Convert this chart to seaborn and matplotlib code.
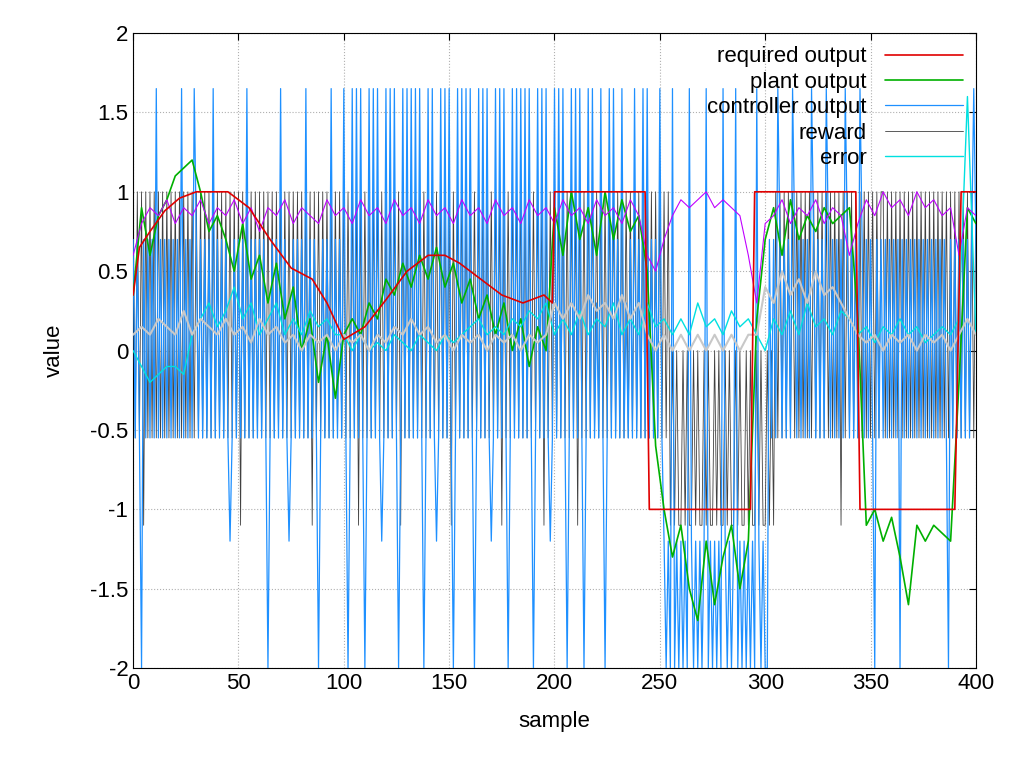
import numpy as np
import matplotlib
matplotlib.use("Agg")
import matplotlib.pyplot as plt
import seaborn as sns

# required output: breakpoints
req_x = [0, 3, 8, 15, 22, 30, 45, 55, 65, 75, 85, 92, 100, 110, 120, 130, 140, 148, 155, 165,
         175, 185, 195, 199, 200, 243, 245, 293, 295, 343, 345, 390, 393, 400]
req_y = [0.35, 0.65, 0.75, 0.88, 0.96, 1.0, 1.0, 0.9, 0.7, 0.52, 0.45, 0.3, 0.07, 0.15, 0.32, 0.5,
         0.6, 0.6, 0.55, 0.45, 0.35, 0.3, 0.35, 0.3, 1, 1, -1, -1, 1, 1, -1, -1, 1, 1]

# plant output, every 4 samples
plant = [0.35, 0.9, 0.6, 0.85, 0.95, 1.1, 1.15, 1.2, 1.0, 0.75, 0.85,
         0.7, 0.5, 0.8, 0.45, 0.6, 0.3, 0.55, 0.2, 0.4, 0.0, 0.2, -0.2, 0.1, -0.3, 0.1,
         0.2, 0.1, 0.3, 0.2, 0.45, 0.35, 0.55, 0.4, 0.6, 0.45, 0.65, 0.4, 0.55, 0.3, 0.45,
         0.2, 0.35, 0.1, 0.3, 0.0, 0.2, -0.1, 0.15, 0.0, 0.9,
         0.6, 1.0, 0.7, 0.9, 0.6, 1.0, 0.7, 0.95, 0.75, 0.85,
         0.5, -0.6, -1.0, -1.3, -1.1, -1.5, -1.7, -1.2, -1.6, -1.3, -1.1, -1.5, -1.2,
         0.2, 0.7, 0.9, 0.6, 0.95, 0.7, 0.85, 0.75, 0.9, 0.8, 0.85, 0.9,
         0.2, -1.1, -1.0, -1.2, -1.05, -1.3, -1.6, -1.1, -1.2, -1.1, -1.15, -1.2, -0.2,
         0.9, 0.8]

# magenta and light grey traces, every 4 samples
magenta = [0.6, 0.8, 0.9, 0.85, 0.95, 0.8, 0.9, 0.85, 0.95, 0.8, 0.9,
           0.85, 0.95, 0.8, 0.9, 0.75, 0.9, 0.85, 0.95, 0.8, 0.9, 0.85, 0.8, 0.95, 0.85, 0.9,
           0.8, 0.95, 0.85, 0.9, 0.8, 0.95, 0.85, 0.9, 0.8, 0.95, 0.85, 0.9, 0.8, 0.95, 0.85,
           0.9, 0.8, 0.95, 0.85, 0.9, 0.8, 0.95, 0.85, 0.9, 0.8,
           0.95, 0.85, 0.9, 0.8, 0.95, 0.85, 0.9, 0.8, 0.95, 0.85,
           0.6, 0.5, 0.7, 0.85, 0.95, 0.9, 0.95, 1.0, 0.9, 0.95, 0.9, 0.85, 0.6,
           0.3, 0.8, 0.85, 0.95, 0.8, 0.9, 0.85, 0.95, 0.8, 0.9, 0.85, 0.6,
           0.8, 0.95, 0.85, 1.0, 0.9, 0.95, 0.85, 1.0, 0.9, 0.95, 0.85, 0.9, 0.6,
           0.9, 0.85]
lgrey = [0.1, 0.15, 0.1, 0.2, 0.15, 0.1, 0.25, 0.1, 0.2, 0.15, 0.1,
         0.2, 0.1, 0.15, 0.05, 0.2, 0.1, 0.15, 0.05, 0.1, 0.0, 0.1, 0.05, 0.1, 0.0, 0.1,
         0.05, 0.1, 0.0, 0.1, 0.05, 0.15, 0.1, 0.2, 0.1, 0.15, 0.05, 0.1, 0.0, 0.1, 0.05,
         0.1, 0.0, 0.1, 0.05, 0.1, 0.0, 0.1, 0.05, 0.1, 0.3,
         0.2, 0.3, 0.2, 0.35, 0.25, 0.3, 0.2, 0.35, 0.2, 0.3,
         0.1, 0.0, 0.1, 0.0, 0.1, 0.0, 0.1, 0.0, 0.1, 0.0, 0.1, 0.0, 0.1,
         0.1, 0.4, 0.3, 0.5, 0.35, 0.45, 0.3, 0.5, 0.35, 0.4, 0.3, 0.2,
         0.1, 0.05, 0.1, 0.0, 0.1, 0.05, 0.1, 0.0, 0.1, 0.05, 0.1, 0.0, 0.1,
         0.2, 0.1]
error = [0.0, -0.1, -0.2, -0.15, -0.1, -0.1, -0.15, 0.1, 0.2, 0.3, 0.15,
         0.25, 0.4, 0.2, 0.3, 0.1, 0.2, 0.3, 0.1, 0.2, 0.1, 0.25, 0.15, 0.2, 0.1, 0.1,
         0.0, 0.1, 0.0, 0.05, 0.0, 0.1, 0.05, 0.0, 0.1, 0.05, 0.0, 0.1, 0.05, 0.1, 0.15,
         0.2, 0.1, 0.15, 0.1, 0.2, 0.15, 0.25, 0.2, 0.3, 0.1,
         0.2, 0.1, 0.25, 0.1, 0.2, 0.15, 0.3, 0.1, 0.2, 0.1,
         0.3, 0.15, 0.2, 0.1, 0.2, 0.1, 0.3, 0.15, 0.2, 0.1, 0.25, 0.15, 0.2,
         0.1, 0.0, 0.2, 0.1, 0.25, 0.1, 0.3, 0.15, 0.2, 0.1, 0.25, 0.2,
         0.1, 0.15, 0.05, 0.15, 0.1, 0.2, 0.1, 0.15, 0.05, 0.1, 0.15, 0.1, 0.2,
         1.6, 0.1]

# controller output and reward: one level code per sample
ctrl_levels = {"a": -2.0, "b": -1.2, "c": -0.55, "d": 0.7, "e": 1.65, "f": 0.3}
ctrl_codes = ("dcdcadcdcdcecdcdcdcdcdcecdcdce"
              "dcdcdcdcecdcdcdcbcdcdcdcecdcdcdcdcacdcdcecdcbcdcdcdcecdcdcacdcdcecdcdc"
              "ecacecececacecececbcecececacecececececacececbcecececacecececec"
              "acecececbcecececacecececececacecececbcecececacecececacececfcec"
              "acececdcecfcdcecdcececdcdcec"
              "babaeabababaebabababeabababaebababeababababaebabaa"
              "dcdcedcdcdcedcdcdcdcedcdcdcedcdcdcdcedcdcdcedcdcdc"
              "adcdcdcdcdcdadcdcdcdcdcdcdcdcdcdcdcadcdcdcdcdcdedc"
              "dcdc")
rew_levels = {"h": 1.0, "c": -0.55, "b": -1.1, "z": 0.0}
rew_codes = ("hchchbhchchchchchchchchchchchc"
             "hchchchchchchchchchchbhchchchchchchchchchchchchchchchchbhchchchchchchc"
             "hchchchbhchchchchchchchchchbhchchchchchchchchchchchbhchchchchchc"
             "hchchchchchbhchchchchchchchchchbhchchchchchchchbhchchchchchchch"
             "chchchchchchchchchchchchchch"
             "bzbzbbzbzbbzbzbbzbzbbzbzbbzbzbbzbzbbzbzbbzbzbbzbzb"
             "hchchchchchchchchchchchchchchchbhchchchchchchchchch"
             "hchchchchchchchchchchchchchchchchchchchchchchchchc"
             "hchc")

ctrl = [ctrl_levels[c] for c in ctrl_codes]
rew = [rew_levels[c] for c in rew_codes]
x4 = np.arange(0, 401, 4)

sns.set_style("white")
plt.rcParams["font.family"] = ["Liberation Sans", "DejaVu Sans"]
plt.rcParams["text.color"] = "black"
plt.rcParams["axes.labelcolor"] = "black"
plt.rcParams["xtick.color"] = "black"
plt.rcParams["ytick.color"] = "black"
fig, ax = plt.subplots(figsize=(10.24, 7.68), dpi=100)

sns.lineplot(x=req_x, y=req_y, ax=ax, color="#e00000", lw=1.2, label="required output", zorder=6)
sns.lineplot(x=x4, y=plant, ax=ax, color="#00b000", lw=1.2, label="plant output", zorder=4)
sns.lineplot(x=np.arange(len(ctrl)), y=ctrl, ax=ax, color="#1e90ff", lw=0.9, label="controller output", zorder=3)
sns.lineplot(x=np.arange(len(rew)), y=rew, ax=ax, color="#404040", lw=0.6, label="reward", zorder=2)
sns.lineplot(x=x4, y=error, ax=ax, color="#00e0e0", lw=1.0, label="error", zorder=5)
sns.lineplot(x=x4, y=magenta, ax=ax, color="#c000ff", lw=0.8, zorder=5)
sns.lineplot(x=x4, y=lgrey, ax=ax, color="#c8c8c8", lw=1.5, zorder=5)

ax.set_xlim(0, 400)
ax.set_ylim(-2, 2)
ax.set_xticks(range(0, 401, 50))
ax.set_yticks(np.arange(-2, 2.01, 0.5))
ax.set_yticklabels(["-2", "-1.5", "-1", "-0.5", "0", "0.5", "1", "1.5", "2"])
ax.tick_params(direction="in", labelsize=16, top=True, right=True, length=5)
ax.grid(True, color="#b0b0b0", ls=":", lw=0.8)
for s in ax.spines.values():
    s.set_color("black")
ax.set_xlabel("sample", fontsize=16, labelpad=12)
ax.set_ylabel("value", fontsize=16, labelpad=18)
leg = ax.legend(loc="upper right", frameon=False, markerfirst=False, fontsize=16,
                handlelength=3.5, labelspacing=0.2, borderaxespad=0.2)
plt.subplots_adjust(left=0.13, right=0.953, top=0.957, bottom=0.13)
plt.savefig("out.png")
